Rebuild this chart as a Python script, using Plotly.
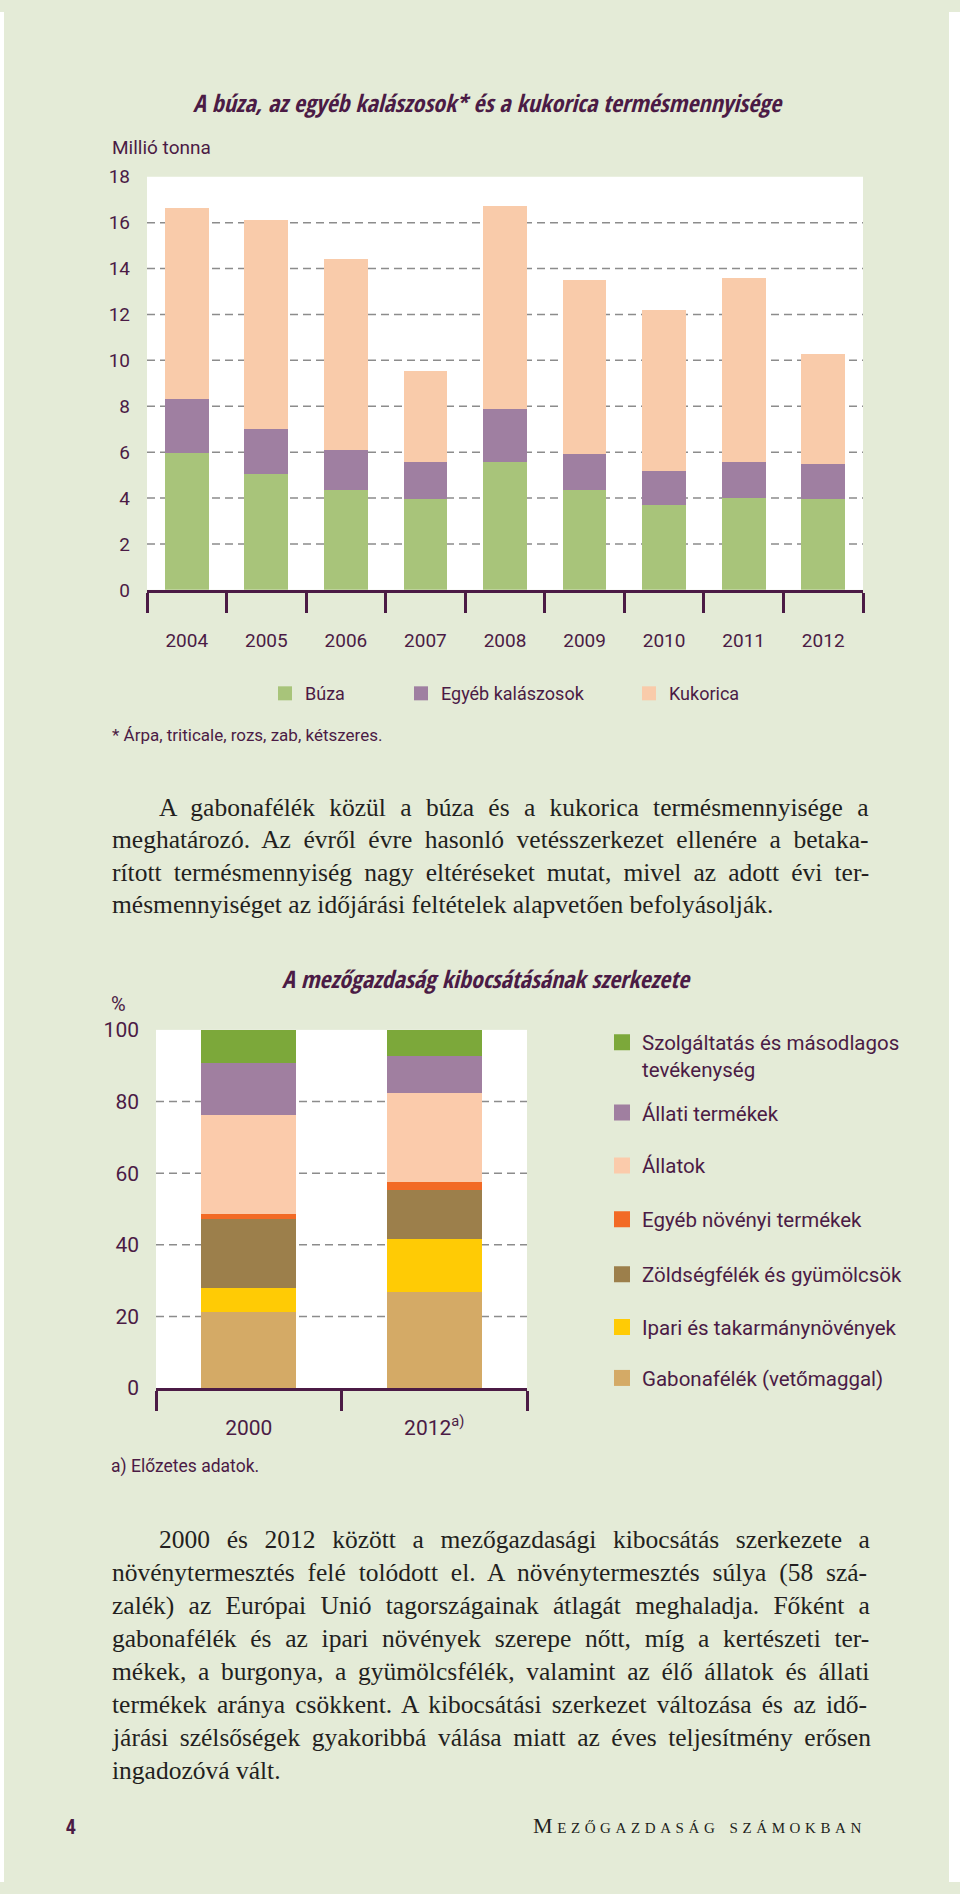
import unicodedata
import plotly.graph_objects as go

W, H = 960, 1894

# ---------------- data: chart 1 ----------------
years = ["2004", "2005", "2006", "2007", "2008", "2009", "2010", "2011", "2012"]
buza = [5.95, 5.04, 4.34, 3.95, 5.55, 4.34, 3.69, 4.02, 3.95]
egyeb_kalaszosok = [2.38, 1.99, 1.74, 1.60, 2.32, 1.57, 1.49, 1.53, 1.52]
kukorica = [8.32, 9.09, 8.35, 4.00, 8.87, 7.59, 7.02, 8.04, 4.79]
names1 = ["Búza", "Egyéb kalászosok", "Kukorica"]
y1_ticks = [0, 2, 4, 6, 8, 10, 12, 14, 16, 18]
y1_grid = [2, 4, 6, 8, 10, 12, 14, 16]

# ---------------- data: chart 2 ----------------
periods = ["2000", "2012<sup>a)</sup>"]
gabona = [21.3, 26.7]
ipari = [6.6, 15.0]
zoldseg = [19.4, 13.6]
egyeb_noveny = [1.2, 2.2]
allatok = [27.7, 24.8]
allati_termekek = [14.6, 10.4]
szolgaltatas = [9.2, 7.3]
names2 = ["Gabonafélék (vetőmaggal)", "Ipari és takarmánynövények",
          "Zöldségfélék és gyümölcsök", "Egyéb növényi termékek",
          "Állatok", "Állati termékek",
          "Szolgáltatás és másodlagos<br>tevékenység"]
y2_ticks = [0, 20, 40, 60, 80, 100]
y2_grid = [20, 40, 60, 80]

# ---------------- text ----------------
p1 = ["A gabonafélék közül a búza és a kukorica termésmennyisége a",
      "meghatározó. Az évről évre hasonló vetésszerkezet ellenére a betaka-",
      "rított termésmennyiség nagy eltéréseket mutat, mivel az adott évi ter-",
      "mésmennyiséget az időjárási feltételek alapvetően befolyásolják."]
p2 = ["2000 és 2012 között a mezőgazdasági kibocsátás szerkezete a",
      "növénytermesztés felé tolódott el. A növénytermesztés súlya (58 szá-",
      "zalék) az Európai Unió tagországainak átlagát meghaladja. Főként a",
      "gabonafélék és az ipari növények szerepe nőtt, míg a kertészeti ter-",
      "mékek, a burgonya, a gyümölcsfélék, valamint az élő állatok és állati",
      "termékek aránya csökkent. A kibocsátási szerkezet változása és az idő-",
      "járási szélsőségek gyakoribbá válása miatt az éves teljesítmény erősen",
      "ingadozóvá vált."]

# ---------------- styles ----------------
GREEN_BG = "#E4EBD7"
PURPLE = "#4B1B45"
TEXT = "#231F20"
COND = "Roboto, sans-serif"
TITLE = "Open Sans Condensed, Roboto, sans-serif"
SERIF = "Liberation Serif, DejaVu Serif, serif"
GRID = "#8C8C8C"
BODY_SIZE = 25.5

colors1 = ["#A8C47A", "#9F7FA1", "#F9CBAA"]
colors2 = ["#D4AA66", "#FFCB05", "#9C7F4B", "#F26A25", "#FBCBAB", "#A07FA0", "#7CA83A"]

# approximate advance widths (1/1000 em) of the serif body font, used to justify lines
_TW = {" ": 250, "a": 444, "b": 500, "c": 444, "d": 500, "e": 444, "f": 333, "g": 500, "h": 500,
       "i": 278, "j": 278, "k": 500, "l": 278, "m": 778, "n": 500, "o": 500, "p": 500, "q": 500,
       "r": 333, "s": 389, "t": 278, "u": 500, "v": 500, "w": 722, "x": 500, "y": 500, "z": 444,
       "A": 722, "E": 611, "F": 556, "U": 722, ".": 250, ",": 250, "-": 333, "(": 333, ")": 333}


def text_width(s, size):
    tot = 0
    for ch in s:
        base = unicodedata.normalize("NFD", ch)[0]
        tot += _TW.get(base, 500)
    return tot * size / 1000.0


def px(x):
    return x / W


def vy(y):
    # vertical layout position (page pixels, from the top) -> figure pixels,
    # slightly stretched so the photographed page lines up with the reference
    return 1.0106 * y - 12


def py(y):
    return 1 - vy(y) / H


def py_raw(y):
    return 1 - y / H


fig = go.Figure()

for vals, name, col in zip([buza, egyeb_kalaszosok, kukorica], names1, colors1):
    fig.add_trace(go.Bar(x=years, y=vals, name=name, marker=dict(color=col, line=dict(width=0)),
                         width=0.55, xaxis="x", yaxis="y", showlegend=False))

for vals, name, col in zip([gabona, ipari, zoldseg, egyeb_noveny, allatok, allati_termekek, szolgaltatas],
                           names2, colors2):
    fig.add_trace(go.Bar(x=periods, y=vals, name=name, marker=dict(color=col, line=dict(width=0)),
                         width=0.51, xaxis="x2", yaxis="y2", showlegend=False))

leg1_pos = [(285, 695), (421, 695), (649, 695)]
legend_layouts = {}
k = 1
for name, col, (lx, ly) in zip(names1, colors1, leg1_pos):
    key = "legend" if k == 1 else f"legend{k}"
    fig.add_trace(go.Scatter(x=[None], y=[None], mode="markers", name=name,
                             marker=dict(symbol="square", size=14, color=col),
                             xaxis="x", yaxis="y", legend=key, showlegend=True))
    legend_layouts[key] = dict(x=px(lx - 20), y=py(ly), xanchor="left", yanchor="middle",
                               bgcolor="rgba(0,0,0,0)", borderwidth=0,
                               font=dict(family=COND, size=18, color=PURPLE))
    k += 1

leg2_pos = [(622, 1381), (622, 1330), (622, 1277), (622, 1222), (622, 1168), (622, 1115), (622, 1058)]
for name, col, (lx, ly) in zip(names2, colors2, leg2_pos):
    key = f"legend{k}"
    fig.add_trace(go.Scatter(x=[None], y=[None], mode="markers", name=name,
                             marker=dict(symbol="square", size=19, color=col),
                             xaxis="x2", yaxis="y2", legend=key, showlegend=True))
    legend_layouts[key] = dict(x=px(lx - 20), y=py(ly), xanchor="left", yanchor="middle",
                               valign="top",
                               bgcolor="rgba(0,0,0,0)", borderwidth=0,
                               font=dict(family=COND, size=20.5, color=PURPLE))
    k += 1

axis_font1 = dict(family=COND, size=19, color=PURPLE)
axis_font2 = dict(family=COND, size=21, color=PURPLE)

fig.update_layout(
    width=W, height=H,
    margin=dict(l=0, r=0, t=0, b=0),
    paper_bgcolor=GREEN_BG,
    plot_bgcolor="white",
    barmode="stack",
    **legend_layouts,
    xaxis=dict(domain=[px(147), px(863)], anchor="y", type="category",
               range=[-0.5, len(years) - 0.5],
               showline=True, linecolor=PURPLE, linewidth=3,
               ticks="outside", tickson="boundaries", ticklen=20, tickwidth=3, tickcolor=PURPLE,
               tickfont=axis_font1, ticklabelstandoff=31, showgrid=False, fixedrange=True),
    yaxis=dict(domain=[py(591), py(177)], anchor="x", range=[0, 18],
               tickvals=y1_ticks, showgrid=False, zeroline=False, showline=False,
               ticks="", tickfont=axis_font1, ticklabelstandoff=16, fixedrange=True),
    xaxis2=dict(domain=[px(156), px(527)], anchor="y2", type="category",
                range=[-0.5, len(periods) - 0.5],
                showline=True, linecolor=PURPLE, linewidth=3,
                ticks="outside", tickson="boundaries", ticklen=20, tickwidth=3, tickcolor=PURPLE,
                tickfont=axis_font2, ticklabelstandoff=19, showgrid=False, fixedrange=True),
    yaxis2=dict(domain=[py(1391), py(1032)], anchor="x2", range=[0, 100],
                tickvals=y2_ticks, showgrid=False, zeroline=False, showline=False,
                ticks="", tickfont=axis_font2, ticklabelstandoff=16, fixedrange=True),
)

shapes = []
for v in y1_grid:
    shapes.append(dict(type="line", xref="x domain", yref="y", x0=0, x1=1, y0=v, y1=v,
                       line=dict(color=GRID, width=1.5, dash="8px,5px"), layer="below"))
for v in y2_grid:
    shapes.append(dict(type="line", xref="x2 domain", yref="y2", x0=0, x1=1, y0=v, y1=v,
                       line=dict(color=GRID, width=1.5, dash="8px,5px"), layer="below"))
# white page margins left and right of the green panel
for (x0, x1) in [(0, 4), (949, W)]:
    shapes.append(dict(type="rect", xref="paper", yref="paper",
                       x0=px(x0), x1=px(x1), y0=py_raw(H), y1=py_raw(0),
                       fillcolor="white", line=dict(width=0), layer="above"))
fig.update_layout(shapes=shapes)

ann = []


def add_text(x, y, text, size, family=COND, color=PURPLE, xanchor="left", **kw):
    ann.append(dict(x=px(x), y=py(y), xref="paper", yref="paper", text=text, showarrow=False,
                    xanchor=xanchor, yanchor="middle",
                    font=dict(family=family, size=size, color=color, **kw)))


def add_paragraph(lines, ys, indent_x=157, left_x=110, right_x=868):
    for i, (line, y) in enumerate(zip(lines, ys)):
        x0 = indent_x if i == 0 else left_x
        if i < len(lines) - 1:
            nsp = line.count(" ")
            ws = (right_x - x0 - text_width(line, BODY_SIZE)) / max(nsp, 1)
            txt = f"<span style='word-spacing:{ws:.2f}px'>{line}</span>"
        else:
            txt = line
        add_text(x0, y, txt, BODY_SIZE, family=SERIF, color=TEXT)


add_text(488, 103, "<i>A búza, az egyéb kalászosok* és a kukorica termésmennyisége</i>", 24,
         family=TITLE, xanchor="center", weight="bold")
add_text(110, 148, "Millió tonna", 19)
add_text(110, 736, "* Árpa, triticale, rozs, zab, kétszeres.", 17)

add_paragraph(p1, [809, 841.5, 874, 906.5])

add_text(486, 981, "<i>A mezőgazdaság kibocsátásának szerkezete</i>", 24, family=TITLE,
         xanchor="center", weight="bold")
add_text(109, 1006, "%", 20)
add_text(109, 1470, "a) Előzetes adatok.", 17.5)

add_paragraph(p2, [1543 + 33.06 * i for i in range(len(p2))])

add_text(71, 1830, "<b>4</b>", 21, family=TITLE, xanchor="center")
add_text(868, 1829, "<span style='letter-spacing:4.6px'>Mezőgazdaság számokban</span>", 22,
         family=SERIF, color=TEXT, xanchor="right", variant="small-caps")

fig.update_layout(annotations=ann)

post = ("var gd=document.getElementById('{plot_id}');"
        "var de=document.documentElement, b=document.body;"
        "de.style.margin='0';de.style.padding='0';b.style.margin='0';b.style.padding='0';"
        "de.style.overflow='hidden';b.style.overflow='hidden';"
        "gd.style.position='absolute';gd.style.left='0px';gd.style.top='0px';")

fig.write_html("out.html", config={"displayModeBar": False}, post_script=post)
